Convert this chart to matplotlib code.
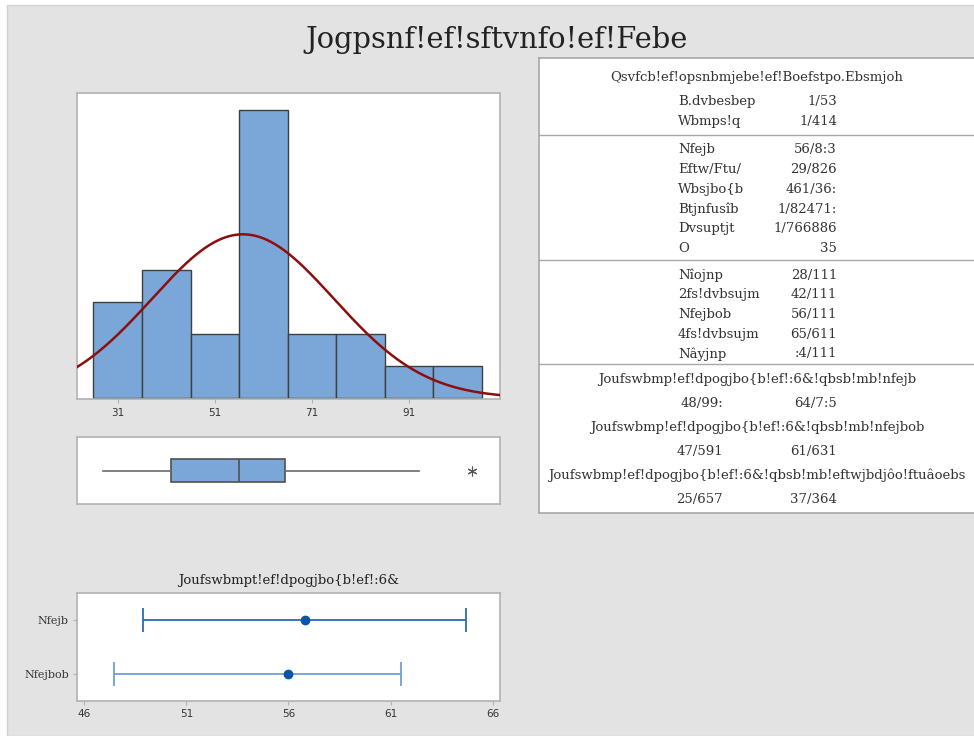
import numpy as np
import matplotlib
matplotlib.use("Agg")
import matplotlib.pyplot as plt
from matplotlib.patches import Rectangle

# ---- data -------------------------------------------------------------
bin_edges = [15, 25, 35, 45, 55, 65, 75, 85, 95]
bin_counts = [3, 4, 2, 9, 2, 2, 1, 1]
hist_ticks = [20, 40, 60, 80]
hist_ticklabels = ["31", "51", "71", "91"]

mean_val = 45.792
sd_val = 18.715
n_obs = 24

box_min = 17.0
box_q1 = 31.0
box_median = 45.0
box_q3 = 54.5
box_whisker_hi = 82.0
box_outliers = [93.0]

ci_labels = ["Nfejb", "Nfejbob"]
ci_centers = [45.792, 45.0]
ci_low = [37.889, 36.480]
ci_high = [53.694, 50.520]
ci_ticks = [35, 40, 45, 50, 55]
ci_ticklabels = ["46", "51", "56", "61", "66"]

title_text = "Jogpsnf!ef!sftvnfo!ef!Febe"
ci_title = "Joufswbmpt!ef!dpogjbo{b!ef!:6&"

test_header = "Qsvfcb!ef!opsnbmjebe!ef!Boefstpo.Ebsmjoh"
test_names = ["B.dvbesbep", "Wbmps!q"]
test_values = ["1/53", "1/414"]

moment_names = ["Nfejb", "Eftw/Ftu/", "Wbsjbo{b", "Btjnfusîb", "Dvsuptjt", "O"]
moment_values = ["56/8:3", "29/826", "461/36:", "1/82471:", "1/766886", "35"]

quant_names = ["Nîojnp", "2fs!dvbsujm", "Nfejbob", "4fs!dvbsujm", "Nâyjnp"]
quant_values = ["28/111", "42/111", "56/111", "65/611", ":4/111"]

interval_headers = [
    "Joufswbmp!ef!dpogjbo{b!ef!:6&!qbsb!mb!nfejb",
    "Joufswbmp!ef!dpogjbo{b!ef!:6&!qbsb!mb!nfejbob",
    "Joufswbmp!ef!dpogjbo{b!ef!:6&!qbsb!mb!eftwjbdjôo!ftuâoebs",
]
interval_low = ["48/99:", "47/591", "25/657"]
interval_high = ["64/7:5", "61/631", "37/364"]

# ---- styling ------------------------------------------------------------
W, H = 974, 736
BG = "#e3e3e3"
FRAME = "#b2b2b2"
BAR = "#7ba7d8"
EDGE = "#3f3f3f"
CURVE = "#8c0f0f"
TXT = "#333333"
FONT = ["DejaVu Serif"]

plt.rcParams["font.family"] = FONT

fig = plt.figure(figsize=(W / 100, H / 100), dpi=100, facecolor="white")


def px_axes(x0, y0, x1, y1):
    return fig.add_axes([x0 / W, 1 - y1 / H, (x1 - x0) / W, (y1 - y0) / H])


# gray backdrop panel behind everything
fig.patches.append(Rectangle((7 / W, 0), 1, 1 - 5 / H, transform=fig.transFigure,
                             facecolor=BG, edgecolor="#d2d2d2", lw=1.0, zorder=-5))

fig.text(497 / W, 1 - 40 / H, title_text, ha="center", va="center",
         fontsize=20.8, color="#222222")


def frame(ax):
    for s in ax.spines.values():
        s.set_color(FRAME)
        s.set_linewidth(1.2)


# ---- histogram with fitted normal curve ----------------------------------
axh = px_axes(77.3, 92.7, 500, 398.7)
widths = np.diff(bin_edges)
axh.bar(bin_edges[:-1], bin_counts, width=widths, align="edge",
        color=BAR, edgecolor=EDGE, linewidth=1.0, zorder=2)
xlim = (11.7, 98.7)
xs = np.linspace(*xlim, 400)
pdf = np.exp(-0.5 * ((xs - mean_val) / sd_val) ** 2) / (sd_val * np.sqrt(2 * np.pi))
axh.plot(xs, pdf * n_obs * widths[0], color=CURVE, lw=1.8, zorder=3)
axh.set_xlim(*xlim)
axh.set_ylim(-0.02, 9.54)
axh.set_yticks([])
axh.set_xticks(hist_ticks)
axh.set_xticklabels(hist_ticklabels, fontsize=7.5, color=TXT, family="DejaVu Sans")
axh.tick_params(axis="x", length=3, color=FRAME, pad=4)
frame(axh)

# ---- boxplot -------------------------------------------------------------
axb = px_axes(77.3, 437.3, 500, 504)
stats = [dict(med=box_median, q1=box_q1, q3=box_q3, whislo=box_min,
              whishi=box_whisker_hi, fliers=box_outliers)]
axb.bxp(stats, positions=[0], widths=0.67, orientation="horizontal", patch_artist=True,
        showcaps=False,
        boxprops=dict(facecolor=BAR, edgecolor="#505050", lw=1.2),
        medianprops=dict(color="#505050", lw=1.2),
        whiskerprops=dict(color="#6a6a6a", lw=1.2),
        flierprops=dict(marker=(6, 2, 0), markersize=7, markeredgecolor="#555555",
                        markeredgewidth=0.8, linestyle="none"))
axb.set_xlim(*xlim)
axb.set_ylim(-1, 1)
axb.set_xticks([])
axb.set_yticks([])
frame(axb)

# ---- confidence intervals -----------------------------------------------
axc = px_axes(77.3, 593.3, 500, 700.7)
ypos = [1, 0]
ci_colors = ["#2e6ab4", "#6f9fd6"]
for y, c, lo, hi, col in zip(ypos, ci_centers, ci_low, ci_high, ci_colors):
    axc.errorbar([c], [y], xerr=[[c - lo], [hi - c]], fmt="none",
                 ecolor=col, elinewidth=1.3, capsize=8.3, capthick=1.3, zorder=2)
    axc.plot([c], [y], "o", color="#0a55a5", markersize=6, zorder=3)
axc.set_xlim(34.66, 55.36)
axc.set_ylim(-0.5, 1.5)
axc.set_yticks(ypos)
axc.set_yticklabels(ci_labels, fontsize=8, color=TXT)
axc.set_xticks(ci_ticks)
axc.set_xticklabels(ci_ticklabels, fontsize=7.5, color=TXT, family="DejaVu Sans")
axc.tick_params(length=3, color=FRAME, pad=3)
frame(axc)
axc.set_title(ci_title, fontsize=9.5, color="#222222", pad=7)

# ---- statistics table ----------------------------------------------------
axt = px_axes(539, 58, 975, 512.5)
axt.set_xlim(539, 975)
axt.set_ylim(512.5, 58)
axt.set_xticks([])
axt.set_yticks([])
for s in ["left", "top", "bottom"]:
    axt.spines[s].set_color("#a8a8a8")
    axt.spines[s].set_linewidth(1.2)
axt.spines["right"].set_visible(False)

cx = 757
lab_x = 678
val_x = 837
fs = 9.5


def row(y, name, value):
    axt.text(lab_x, y, name, ha="left", va="center", fontsize=fs, color=TXT)
    axt.text(val_x, y, value, ha="right", va="center", fontsize=fs, color=TXT)


axt.text(cx, 77, test_header, ha="center", va="center", fontsize=fs, color=TXT)
for i, (nm, v) in enumerate(zip(test_names, test_values)):
    row(101 + 20 * i, nm, v)
axt.axhline(135, color="#a8a8a8", lw=1.0)

for i, (nm, v) in enumerate(zip(moment_names, moment_values)):
    row(150 + 19.7 * i, nm, v)
axt.axhline(260, color="#a8a8a8", lw=1.0)

for i, (nm, v) in enumerate(zip(quant_names, quant_values)):
    row(275 + 19.7 * i, nm, v)
axt.axhline(364, color="#a8a8a8", lw=1.0)

for i, (hd, lo, hi) in enumerate(zip(interval_headers, interval_low, interval_high)):
    y0 = 379 + 48 * i
    axt.text(cx, y0, hd, ha="center", va="center", fontsize=fs, color=TXT)
    axt.text(723, y0 + 24, lo, ha="right", va="center", fontsize=fs, color=TXT)
    axt.text(val_x, y0 + 24, hi, ha="right", va="center", fontsize=fs, color=TXT)

fig.savefig("out.png", dpi=100, facecolor=fig.get_facecolor())
